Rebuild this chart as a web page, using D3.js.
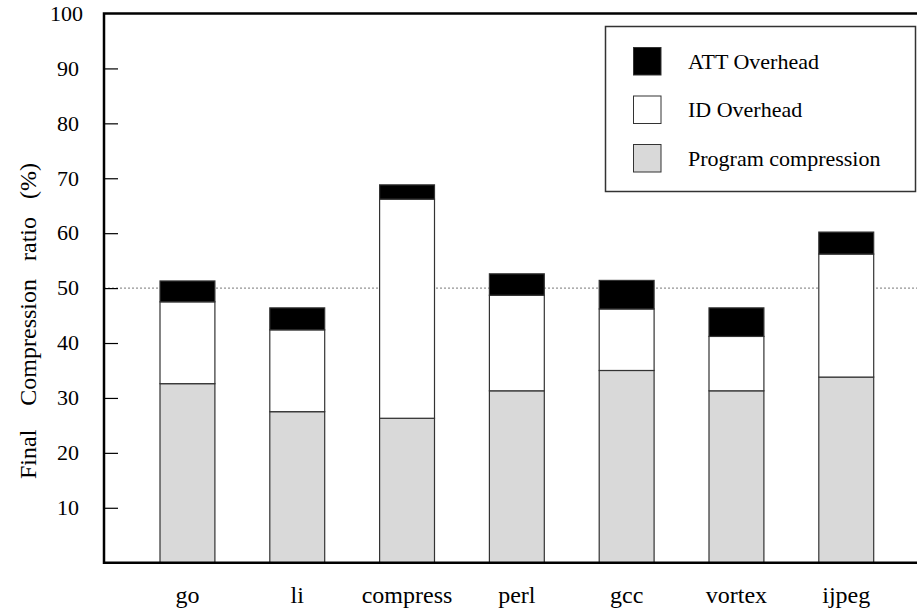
<!DOCTYPE html>
<html>
<head>
<meta charset="utf-8">
<script src="https://cdn.jsdelivr.net/npm/d3@7/dist/d3.min.js"></script>
<style>
  html, body { margin: 0; padding: 0; background: #fff; }
  svg { display: block; font-family: "Liberation Serif", "Times New Roman", serif; }
  text { white-space: pre; }
</style>
</head>
<body>
<svg id="chart" width="917" height="612"></svg>
<script>
// Benchmarks and stacked components of the final compression ratio (%)
const categories = ["go", "li", "compress", "perl", "gcc", "vortex", "ijpeg"];
const programCompression = [32.6, 27.5, 26.3, 31.3, 35.0, 31.3, 33.8];
const idOverhead = [14.9, 14.9, 39.9, 17.4, 11.2, 9.9, 22.4];
const attOverhead = [3.8, 4.0, 2.6, 3.9, 5.2, 5.2, 4.0];
const yTicks = [10, 20, 30, 40, 50, 60, 70, 80, 90, 100];
const seriesNames = ["Program compression", "ID Overhead", "ATT Overhead"];
const seriesColors = ["#d9d9d9", "#ffffff", "#000000"];
const referenceLine = 50;

const svg = d3.select("#chart");
const plotLeft = 104, plotRight = 917, plotTop = 13.5, plotBottom = 562.7;

const y = d3.scaleLinear().domain([0, 100]).range([plotBottom, plotTop]);
const x = d3.scaleBand().domain(categories)
  .range([105.1, 928.6]).paddingInner(0.5).paddingOuter(0.5);

const rows = categories.map((c, i) => ({
  cat: c,
  "Program compression": programCompression[i],
  "ID Overhead": idOverhead[i],
  "ATT Overhead": attOverhead[i]
}));
const stacked = d3.stack().keys(seriesNames)(rows);

// dotted 50% reference line (drawn under the bars)
svg.append("line")
  .attr("x1", plotLeft).attr("x2", plotRight)
  .attr("y1", y(referenceLine)).attr("y2", y(referenceLine))
  .attr("stroke", "#777").attr("stroke-width", 1)
  .attr("stroke-dasharray", "2,2");

// stacked bars
stacked.forEach((layer, li) => {
  svg.append("g").selectAll("rect").data(layer).join("rect")
    .attr("x", d => x(d.data.cat))
    .attr("width", x.bandwidth())
    .attr("y", d => y(d[1]))
    .attr("height", d => y(d[0]) - y(d[1]))
    .attr("fill", seriesColors[li])
    .attr("stroke", "#333")
    .attr("stroke-width", 1.2);
});

// left axis with inward ticks
const yAxis = svg.append("g").attr("transform", `translate(${plotLeft},0)`)
  .call(d3.axisRight(y).tickValues(yTicks).tickSize(14).tickFormat(""));
yAxis.select(".domain").remove();
yAxis.selectAll(".tick line").attr("stroke", "#000").attr("stroke-width", 1.2);
yAxis.selectAll(".tick").filter(d => d === 100).select("line").remove();

svg.append("g").selectAll("text").data(yTicks).join("text")
  .attr("x", d => d === 100 ? 83 : 79).attr("y", d => y(d)).attr("dy", "0.33em")
  .attr("text-anchor", "end").attr("font-size", 22).attr("fill", "#000")
  .text(d => d);

// frame: left, top and bottom lines
svg.append("path")
  .attr("d", `M${plotRight},${plotTop}H${plotLeft}V${plotBottom}H${plotRight}`)
  .attr("fill", "none").attr("stroke", "#000").attr("stroke-width", 2.5);

// category labels
svg.append("g").selectAll("text").data(categories).join("text")
  .attr("x", d => x(d) + x.bandwidth() / 2).attr("y", 603)
  .attr("text-anchor", "middle").attr("font-size", 24).attr("fill", "#000")
  .text(d => d);

// y-axis title
svg.append("text")
  .attr("transform", "translate(36,321) rotate(-90)")
  .attr("text-anchor", "middle").attr("font-size", 24).attr("fill", "#000")
  .text("Final    Compression   ratio   (%)");

// legend
const lg = svg.append("g");
lg.append("rect").attr("x", 605.5).attr("y", 26.5).attr("width", 310).attr("height", 165)
  .attr("fill", "#fff").attr("stroke", "#333").attr("stroke-width", 1.5);
const legendOrder = ["ATT Overhead", "ID Overhead", "Program compression"];
legendOrder.forEach((name, i) => {
  const yy = 47.5 + i * 48.5;
  lg.append("rect").attr("x", 633.5).attr("y", yy).attr("width", 27.5).attr("height", 27.5)
    .attr("fill", seriesColors[seriesNames.indexOf(name)])
    .attr("stroke", "#333").attr("stroke-width", 1);
  lg.append("text").attr("x", 688).attr("y", yy + 21)
    .attr("font-size", 22).attr("fill", "#000").text(name);
});
</script>
</body>
</html>
